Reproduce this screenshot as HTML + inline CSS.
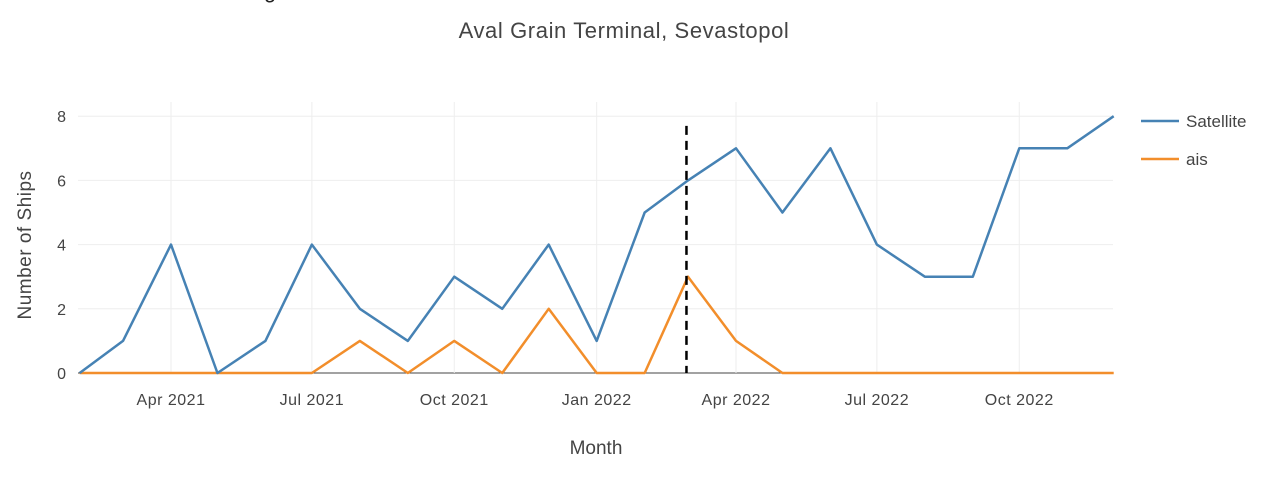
<!DOCTYPE html>
<html><head><meta charset="utf-8"><style>
body{margin:0;background:#fff;}
svg{display:block;font-family:"Liberation Sans",sans-serif;}
</style></head><body>
<svg id="chart" width="1278" height="480">
<text x="264" y="-2" font-size="22" fill="#222">g</text>
<text x="624" y="38" text-anchor="middle" font-size="22" letter-spacing="0.6" fill="#444">Aval Grain Terminal, Sevastopol</text>
<g id="grid"></g>
<g id="series"></g>
<text x="596" y="454" text-anchor="middle" font-size="19" fill="#444">Month</text>
<text transform="translate(31,245) rotate(-90)" text-anchor="middle" font-size="19" letter-spacing="0.5" fill="#444">Number of Ships</text>
<g><line x1="1141" y1="121" x2="1179" y2="121" stroke="#4682b4" stroke-width="2.5"/><text x="1186" y="127" font-size="17" fill="#444">Satellite</text></g>
<g><line x1="1141" y1="159" x2="1179" y2="159" stroke="#f28e2b" stroke-width="2.5"/><text x="1186" y="165" font-size="17" fill="#444">ais</text></g>
</svg>
<script>
const months=["2021-02","2021-03","2021-04","2021-05","2021-06","2021-07","2021-08","2021-09","2021-10","2021-11","2021-12","2022-01","2022-02","2022-03","2022-04","2022-05","2022-06","2022-07","2022-08","2022-09","2022-10","2022-11","2022-12"];
const satellite=[0,1,4,0,1,4,2,1,3,2,4,1,5,6,7,5,7,4,3,3,7,7,8];
const ais=[0,0,0,0,0,0,1,0,1,0,2,0,0,3,1,0,0,0,0,0,0,0,0];
const yTicks=[0,2,4,6,8];
const xTicks=["2021-04","2021-07","2021-10","2022-01","2022-04","2022-07","2022-10"];
const xTickLabels=["Apr 2021","Jul 2021","Oct 2021","Jan 2022","Apr 2022","Jul 2022","Oct 2022"];
const eventDate="2022-02-28";
const eventMax=7.7;
const NS="http://www.w3.org/2000/svg";
const d0=Date.UTC(2021,3,1),pxDay=565/365;
function dt(s){const p=s.split("-").map(Number);return Date.UTC(p[0],p[1]-1,p[2]||1);}
function X(s){return 171+(dt(s)-d0)/86400000*pxDay;}
function Y(v){return 373-v*32.1;}
const L=78,R=1113,T=102;
function mk(t,a,parent){const e=document.createElementNS(NS,t);for(const k in a)e.setAttribute(k,a[k]);parent.appendChild(e);return e;}
const grid=document.getElementById("grid"),ser=document.getElementById("series");
yTicks.forEach(v=>{
  const l=mk("line",{x1:L,x2:R,y1:Y(v),y2:Y(v),stroke:v===0?"#444":"#eee","stroke-width":1},grid);
  
  
  const t=mk("text",{x:L-12,y:Y(v)+6,"text-anchor":"end","font-size":16,fill:"#444"},grid);
  t.textContent=v;
  
  
});
xTicks.forEach((m,i)=>{
  const l=mk("line",{x1:X(m),x2:X(m),y1:T,y2:373,stroke:"#eee","stroke-width":1},grid);
  
  
  const t=mk("text",{x:X(m),y:405,"text-anchor":"middle","font-size":16,"letter-spacing":"0.5",fill:"#444"},grid);
  t.textContent=xTickLabels[i];
  
  
});
function line(vals,color,name){
  const p=mk("polyline",{points:vals.map((v,i)=>X(months[i])+","+Y(v)).join(" "),fill:"none",stroke:color,"stroke-width":2.5,"stroke-linejoin":"round"},ser);
  
  
}
line(ais,"#f28e2b","ais-line");
line(satellite,"#4682b4","satellite-line");
const ev=mk("line",{x1:X(eventDate),x2:X(eventDate),y1:Y(eventMax),y2:Y(0),stroke:"#000","stroke-width":2.5,"stroke-dasharray":"9,6"},ser);


</script>
</body></html>
